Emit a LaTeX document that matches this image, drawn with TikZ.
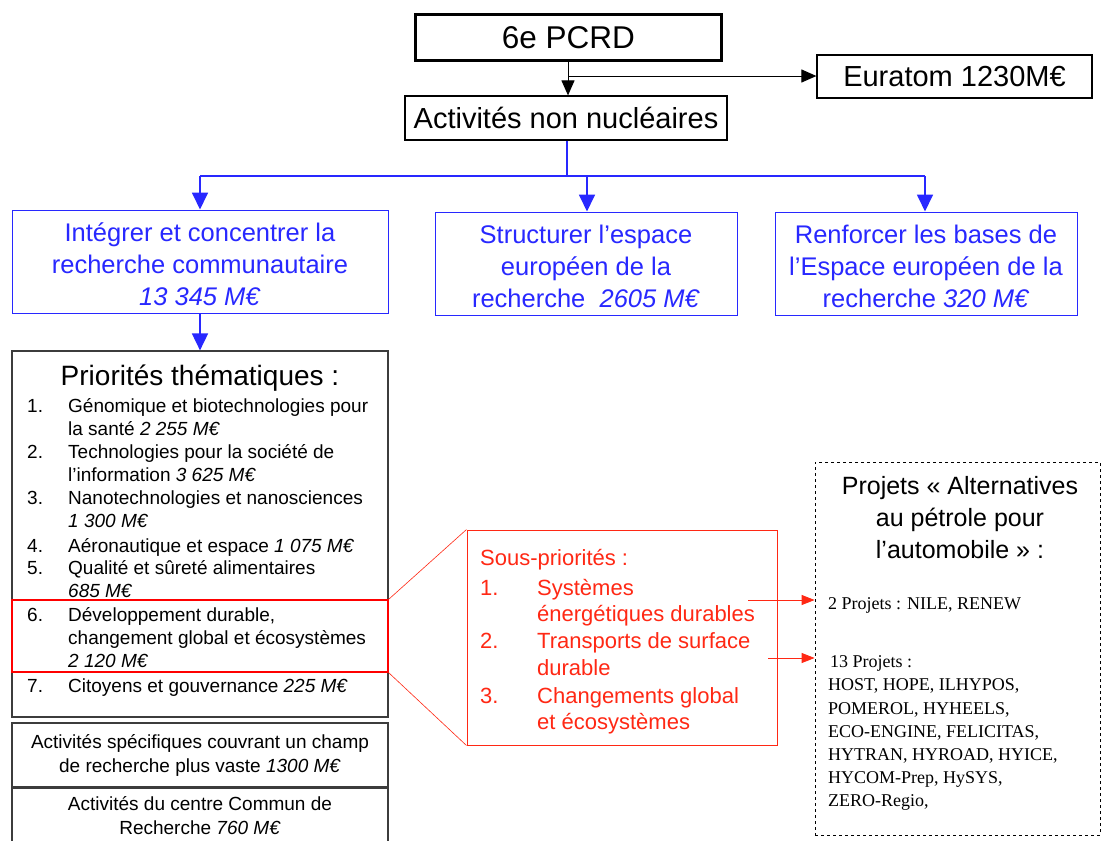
\documentclass[tikz,border=0pt]{standalone}
\usepackage{fontspec}
\setmainfont{Liberation Sans}
\newfontfamily\seriffont{Liberation Serif}
\usetikzlibrary{arrows.meta}
\definecolor{myblue}{RGB}{40,40,255}
\definecolor{myred}{RGB}{255,40,20}
\definecolor{boxgray}{RGB}{60,60,60}
\tikzset{
  fs/.style={font=\fontsize{#1}{#1}\selectfont},
  blackbox/.style={draw=black, line width=1.2pt, inner sep=0pt},
  bluebox/.style={draw=myblue, line width=1pt, inner sep=0pt},
  bluetext/.style={inner sep=0pt, text=myblue, align=center, font=\fontsize{25.5}{32}\selectfont},
  graybox/.style={draw=boxgray, line width=1.2pt, inner sep=0pt, align=center},
  line/.style={anchor=base west, inner sep=0pt},
  tip/.style={-{Triangle[length=15pt,width=13pt]}},
  bluetip/.style={-{Triangle[length=17pt,width=16pt]}},
  smalltip/.style={-{Triangle[length=13pt,width=10pt]}},
}
\begin{document}
\begin{tikzpicture}[x=1pt,y=-1pt]
\clip (0,0) rectangle (1104,841);
\fill[white] (0,0) rectangle (1104,841);
% top
\node[blackbox, line width=3pt, minimum width=306pt, minimum height=46pt, fs=31.5] (pcrd) at (568.5,37.5) {6e PCRD};
\node[blackbox, minimum width=275pt, minimum height=43pt, fs=29] (eura) at (954.5,76.5) {Euratom 1230M€};
\node[blackbox, minimum width=322pt, minimum height=44pt, fs=29] (anc) at (566,118) {Activités non nucléaires};
\coordinate (j1) at (568,76);
\draw[line width=1pt] (pcrd.south -| j1) -- (j1);
\draw[line width=1pt, tip] (j1) -- (anc.north -| j1);
\draw[line width=1pt, tip] (j1) -- (eura.west |- j1);
% blue level
\node[bluebox, minimum width=376pt, minimum height=103pt] (b1) at (200,261.5) {};
\node[bluebox, minimum width=302pt, minimum height=103pt] (b2) at (586,263.5) {};
\node[bluebox, minimum width=302pt, minimum height=103pt] (b3) at (926,263.5) {};
\node[bluetext] (b1t) at (200,264.5) {Intégrer et concentrer la\\recherche communautaire\\\textit{13 345 M€}};
\node[bluetext] (b2t) at (586,266) {Structurer l’espace\\européen de la\\recherche~~\textit{2605 M€}};
\node[bluetext] (b3t) at (926,266) {Renforcer les bases de\\l’Espace européen de la\\recherche \textit{320 M€}};
\coordinate (j2) at (567,176);
\coordinate (jl) at (200,176);
\coordinate (jr) at (925,176);
\coordinate (jm) at (587,176);
\draw[myblue, line width=1.8pt] (anc.south -| j2) -- (j2);
\draw[myblue, line width=1.8pt] (jl) -- (jr);
\draw[myblue, line width=1.8pt, bluetip] (jl) -- (b1.north -| jl);
\draw[myblue, line width=1.8pt, bluetip] (jm) -- (b2.north -| jm);
\draw[myblue, line width=1.8pt, bluetip] (jr) -- (b3.north -| jr);
% priorities box
\node[graybox, minimum width=376pt, minimum height=366pt] (prio) at (200,534) {};
\draw[myblue, line width=1.8pt, bluetip] (b1.south) -- (prio.north);
\node[anchor=base, inner sep=0pt, fs=28] (ptitle) at (200,385) {Priorités thématiques :};
\begin{scope}[every node/.style={line, fs=19}]
\node (n1) at (27,412) {1.};
\node (t1a) at (68,412) {Génomique et biotechnologies pour};
\node (t1b) at (68,435) {la santé \textit{2 255 M€}};
\node (n2) at (27,458) {2.};
\node (t2a) at (68,458) {Technologies pour la société de};
\node (t2b) at (68,481) {l'information \textit{3 625 M€}};
\node (n3) at (27,504) {3.};
\node (t3a) at (68,504) {Nanotechnologies et nanosciences};
\node (t3b) at (68,527) {\textit{1 300 M€}};
\node (n4) at (27,552) {4.};
\node (t4a) at (68,552) {Aéronautique et espace \textit{1 075 M€}};
\node (n5) at (27,574) {5.};
\node (t5a) at (68,574) {Qualité et sûreté alimentaires};
\node (t5b) at (68,597) {\textit{685 M€}};
\node (n6) at (27,621) {6.};
\node (t6a) at (68,621) {Développement durable,};
\node (t6b) at (68,644) {changement global et écosystèmes};
\node (t6c) at (68,667) {\textit{2 120 M€}};
\node (n7) at (27,692) {7.};
\node (t7a) at (68,692) {Citoyens et gouvernance \textit{225 M€}};
\end{scope}
\node[draw=red, line width=1.5pt, minimum width=376pt, minimum height=72pt, inner sep=0pt] (hl) at (200,636) {};
% lower left boxes
\node[graybox, minimum width=376pt, minimum height=64pt, font=\fontsize{19}{24}\selectfont] (spec) at (200,755)
  {Activités spécifiques couvrant un champ\\de recherche plus vaste \textit{1300 M€}};
\node[graybox, minimum width=376pt, minimum height=70pt, anchor=north] (jrc) at (200,788) {};
\node[inner sep=0pt, align=center, font=\fontsize{19}{24}\selectfont] (jrct) at (200,816)
  {Activités du centre Commun de\\Recherche \textit{760 M€}};
% sous-priorites
\node[draw=myred, line width=1pt, minimum width=310pt, minimum height=215pt, inner sep=0pt] (sous) at (622,637.5) {};
\draw[myred, line width=0.6pt] (hl.north east) -- (sous.north west);
\draw[myred, line width=0.6pt] (hl.south east) -- (sous.south west);
\begin{scope}[every node/.style={line, fs=22, text=myred}]
\node (stitle) at (480,565) {Sous-priorités :};
\node (s1) at (480,595) {1.};
\node (s1a) at (537,595) {Systèmes};
\node (s1b) at (537,621) {énergétiques durables};
\node (s2) at (480,648) {2.};
\node (s2a) at (537,648) {Transports de surface};
\node (s2b) at (537,675) {durable};
\node (s3) at (480,703) {3.};
\node (s3a) at (537,703) {Changements global};
\node (s3b) at (537,729) {et écosystèmes};
\end{scope}
% projets box
\node[draw=black, dashed, line width=0.8pt, minimum width=285pt, minimum height=373pt, inner sep=0pt] (proj) at (957.5,648.5) {};
\node[anchor=north, inner sep=0pt, align=center, font=\fontsize{25}{32}\selectfont] (ptit) at (960,476)
  {Projets « Alternatives\\au pétrole pour\\l’automobile » :};
\begin{scope}[every node/.style={line, font=\seriffont\fontsize{18}{23}\selectfont}]
\node (p1) at (828,609) {2 Projets : NILE, RENEW};
\node (p2) at (830,667) {13 Projets :};
\node (p3) at (828,690) {HOST, HOPE, ILHYPOS,};
\node (p4) at (828,714) {POMEROL, HYHEELS,};
\node (p5) at (828,737) {ECO-ENGINE, FELICITAS,};
\node (p6) at (828,760) {HYTRAN, HYROAD, HYICE,};
\node (p7) at (828,783) {HYCOM-Prep, HySYS,};
\node (p8) at (828,806) {ZERO-Regio,};
\end{scope}
\coordinate (r1) at (748,600);
\coordinate (r2) at (768,658);
\draw[myred, line width=0.9pt, smalltip] (r1) -- (proj.west |- r1);
\draw[myred, line width=0.9pt, smalltip] (r2) -- (proj.west |- r2);
\end{tikzpicture}
\end{document}
